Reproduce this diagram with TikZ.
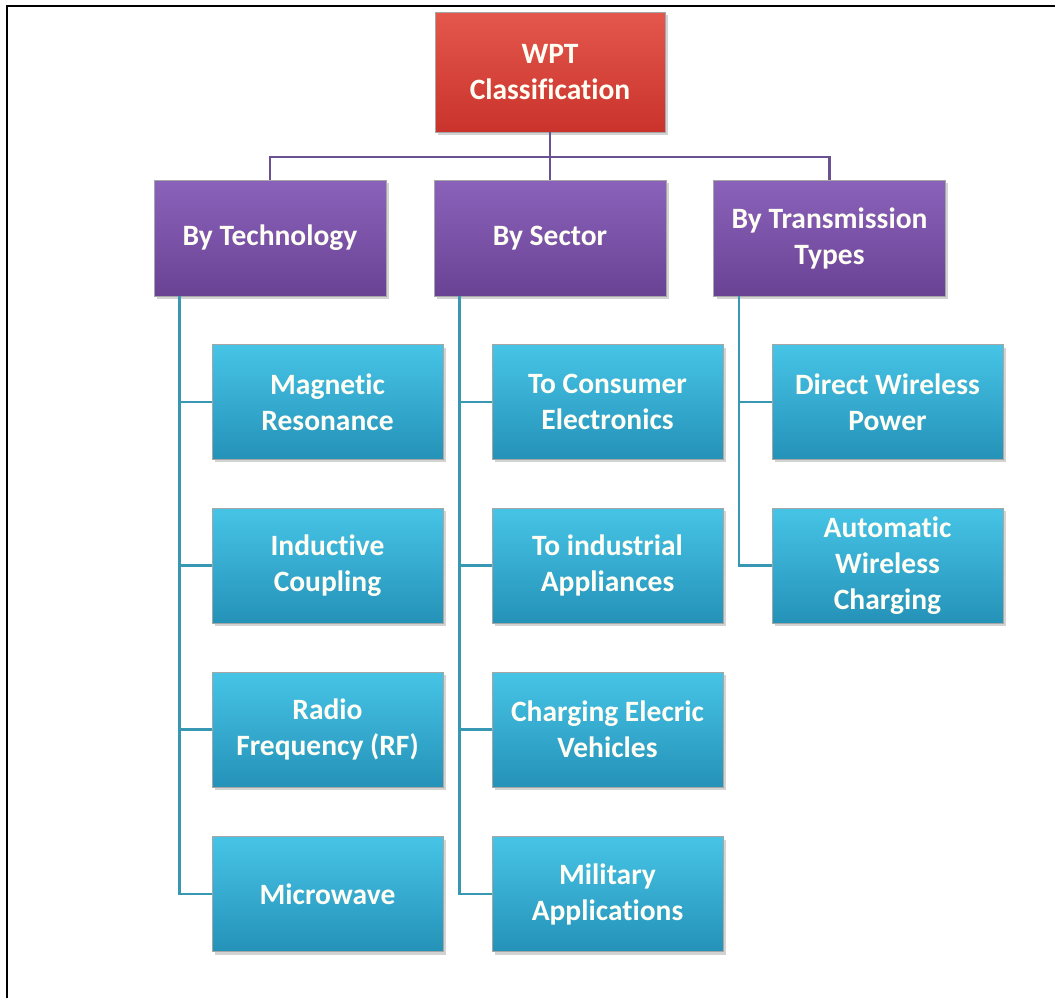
\documentclass[tikz,border=0pt]{standalone}
\usepackage{fontspec}
\setmainfont{Carlito}[Ligatures=NoCommon]
\usepackage{tikz}
\usetikzlibrary{positioning}
\usetikzlibrary{shadows}

\definecolor{rootred}{HTML}{C9332C}
\definecolor{rootredtop}{HTML}{E4574C}
\definecolor{catpurple}{HTML}{6A4294}
\definecolor{catpurpletop}{HTML}{8A62BA}
\definecolor{leafteal}{HTML}{2592B8}
\definecolor{leafteallight}{HTML}{46C4E6}
\definecolor{busviolet}{HTML}{6A5191}
\definecolor{legteal}{HTML}{3897B3}

\tikzset{
  box/.style={rectangle, draw=black!35, line width=0.4pt, align=center,
    text=white!96!yellow, font=\fontsize{16.8}{20.5}\selectfont\bfseries,
    drop shadow={shadow xshift=0.6mm, shadow yshift=-0.6mm, opacity=0.35}},
  rootbox/.style={box, top color=rootredtop, bottom color=rootred,
    minimum width=4.6cm, minimum height=2.4cm},
  catbox/.style={box, top color=catpurpletop, bottom color=catpurple,
    minimum width=4.64cm, minimum height=2.32cm},
  leafbox/.style={box, top color=leafteallight, bottom color=leafteal,
    minimum width=4.62cm, minimum height=2.3cm},
  busline/.style={draw=busviolet, line width=1.5pt},
  legline/.style={draw=legteal, line width=1.5pt}
}

\begin{document}
\begin{tikzpicture}[x=0.02cm,y=-0.02cm]
\useasboundingbox (0,0) rectangle (1055,998);
\draw[line width=1.6pt] (7,998) -- (7,6) -- (1055,6);

\node[rootbox] (root) at (550,72) {WPT\\Classification};

\node[catbox] (tech)   at (270,238) {By Technology};
\node[catbox] (sector) at (550,238) {By Sector};
\node[catbox] (trans)  at (829.5,238) {By Transmission\\Types};

\node[leafbox] (tech-1) at (327.5,402)   {Magnetic\\Resonance};
\node[leafbox] (tech-2) at (327.5,565.5) {Inductive\\Coupling};
\node[leafbox] (tech-3) at (327.5,729.5) {Radio\\Frequency (RF)};
\node[leafbox] (tech-4) at (327.5,894)   {Microwave};

\node[leafbox] (sector-1) at (607.5,402)   {To Consumer\\Electronics};
\node[leafbox] (sector-2) at (607.5,565.5) {To industrial\\Appliances};
\node[leafbox] (sector-3) at (607.5,729.5) {Charging Elecric\\Vehicles};
\node[leafbox] (sector-4) at (607.5,894)   {Military\\Applications};

\node[leafbox] (trans-1) at (887.5,402)   {Direct Wireless\\Power};
\node[leafbox] (trans-2) at (887.5,565.5) {Automatic\\Wireless\\Charging};

% bus from the root to the three categories
\coordinate (bus) at (550,157);
\draw[busline] (root.south) -- (bus);
\draw[busline] (tech.north) |- (bus) -| (trans.north);
\draw[busline] (bus) -- (sector.north);

% legs down to the leaves
\foreach \c/\n in {tech/4, sector/4, trans/2} {
  \coordinate (\c-leg) at ([xshift=0.52cm]\c.south west);
  \draw[legline] (\c-leg) |- (\c-\n.west);
  \foreach \i in {1,...,\n}
    \draw[legline] (\c-leg |- \c-\i.west) -- (\c-\i.west);
}
\end{tikzpicture}
\end{document}
